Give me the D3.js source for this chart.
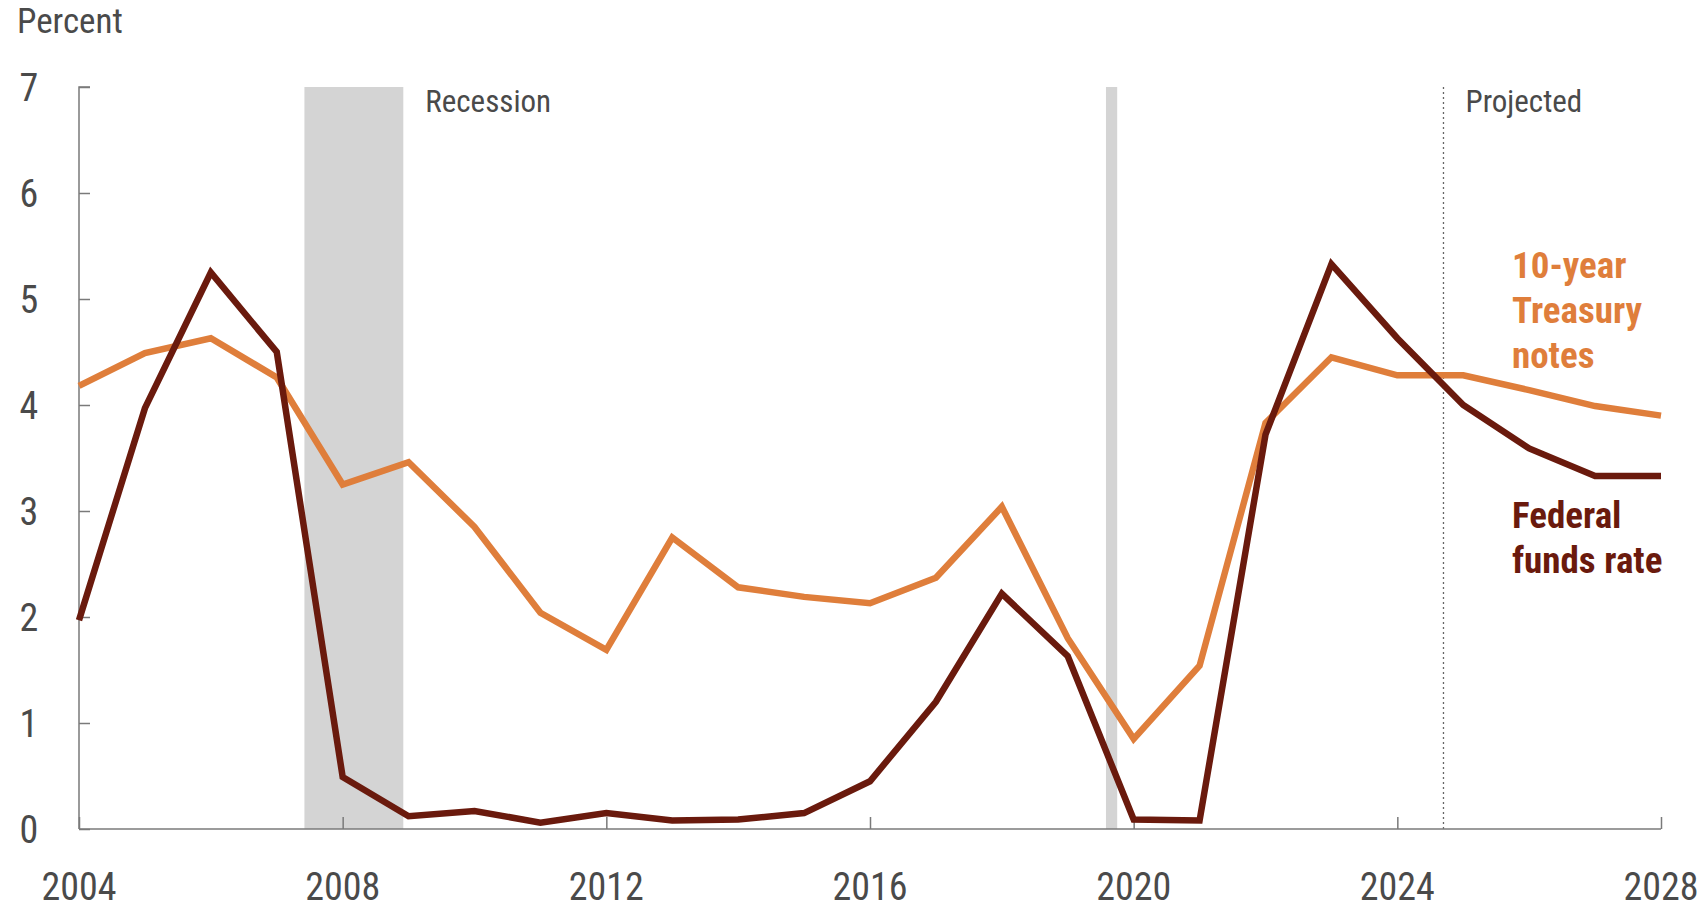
<!DOCTYPE html>
<html>
<head>
<meta charset="utf-8">
<script src="https://cdn.jsdelivr.net/npm/d3@7"></script>
<style>
  body { margin: 0; background: #fff; }
  svg { display: block; font-family: "Liberation Sans Narrow", "Roboto Condensed", "Roboto", sans-serif; }
</style>
</head>
<body>
<svg width="1706" height="909"></svg>
<script>
var years = [2004, 2005, 2006, 2007, 2008, 2009, 2010, 2011, 2012, 2013, 2014, 2015, 2016,
             2017, 2018, 2019, 2020, 2021, 2022, 2023, 2024, 2025, 2026, 2027, 2028];

var fedFunds = [1.97, 3.97, 5.25, 4.50, 0.49, 0.12, 0.17, 0.06, 0.15, 0.08, 0.09, 0.15, 0.45,
                1.20, 2.22, 1.63, 0.09, 0.08, 3.72, 5.33, 4.63, 4.00, 3.59, 3.33, 3.33];

var treasury = [4.18, 4.49, 4.63, 4.26, 3.25, 3.46, 2.85, 2.04, 1.69, 2.75, 2.28, 2.19, 2.13,
                2.37, 3.04, 1.80, 0.85, 1.54, 3.83, 4.45, 4.28, 4.28, 4.14, 3.99, 3.90];

// shaded periods, in chart-year units
var recessions = [[2007.42, 2008.92], [2019.58, 2019.75]];
var projectedStart = 2024.7;

var xTicks = [2004, 2008, 2012, 2016, 2020, 2024, 2028];
var yTicks = [0, 1, 2, 3, 4, 5, 6, 7];

var svg = d3.select("svg"),
    margin = {top: 87, right: 45, bottom: 80, left: 79},
    width = +svg.attr("width") - margin.left - margin.right,
    height = +svg.attr("height") - margin.top - margin.bottom;

var x = d3.scaleLinear().domain([2004, 2028]).range([margin.left, margin.left + width]);
var y = d3.scaleLinear().domain([0, 7]).range([margin.top + height, margin.top]);

var textColor = "#4a4a4a",
    axisColor = "#7a7a7a";

// recession bars
svg.append("g")
  .selectAll("rect")
  .data(recessions)
  .enter().append("rect")
    .attr("x", function(d) { return x(d[0]); })
    .attr("y", y(7))
    .attr("width", function(d) { return x(d[1]) - x(d[0]); })
    .attr("height", y(0) - y(7))
    .attr("fill", "#d4d4d4");

svg.append("text")
    .attr("x", x(recessions[0][1]) + 22)
    .attr("y", y(7) + 25)
    .attr("fill", textColor)
    .attr("font-size", 31)
    .text("Recession");

// projected line
svg.append("line")
    .attr("x1", x(projectedStart)).attr("x2", x(projectedStart))
    .attr("y1", y(7)).attr("y2", y(0))
    .attr("stroke", "#666")
    .attr("stroke-width", 1.3)
    .attr("stroke-dasharray", "2,3");

svg.append("text")
    .attr("x", x(projectedStart) + 22)
    .attr("y", y(7) + 25)
    .attr("fill", textColor)
    .attr("font-size", 31)
    .text("Projected");

// axes
var yAxis = d3.axisRight(y).tickValues(yTicks).tickSize(11).tickFormat("");
var gy = svg.append("g")
    .attr("transform", "translate(" + margin.left + ",0)")
    .call(yAxis);
gy.select(".domain").attr("d", "M" + 11 + "," + y(7) + "H0V" + y(0));

var xAxis = d3.axisTop(x).tickValues(xTicks).tickSize(12).tickFormat("");
var gx = svg.append("g")
    .attr("transform", "translate(0," + y(0) + ")")
    .call(xAxis);
gx.select(".domain").attr("d", "M" + x(2004) + ",0H" + x(2028));

svg.selectAll(".domain, .tick line")
    .attr("stroke", axisColor)
    .attr("stroke-width", 1.5);

// tick labels
svg.append("g")
  .selectAll("text")
  .data(yTicks)
  .enter().append("text")
    .attr("x", 29)
    .attr("y", function(d) { return y(d); })
    .attr("dy", "0.36em")
    .attr("text-anchor", "middle")
    .attr("fill", textColor)
    .attr("font-size", 38)
    .text(function(d) { return d; });

svg.append("g")
  .selectAll("text")
  .data(xTicks)
  .enter().append("text")
    .attr("x", function(d) { return x(d); })
    .attr("y", 900)
    .attr("text-anchor", "middle")
    .attr("fill", textColor)
    .attr("font-size", 38)
    .text(function(d) { return d; });

svg.append("text")
    .attr("x", 17)
    .attr("y", 33)
    .attr("fill", textColor)
    .attr("font-size", 35)
    .text("Percent");

// lines
var line = d3.line()
    .x(function(d, i) { return x(years[i]); })
    .y(function(d) { return y(d); });

svg.append("path")
    .datum(treasury)
    .attr("d", line)
    .attr("fill", "none")
    .attr("stroke", "#df7e3b")
    .attr("stroke-width", 6.5)
    .attr("stroke-linejoin", "miter");

svg.append("path")
    .datum(fedFunds)
    .attr("d", line)
    .attr("fill", "none")
    .attr("stroke", "#6a1a0d")
    .attr("stroke-width", 6.5)
    .attr("stroke-linejoin", "miter");

// series labels
var tLabel = svg.append("text")
    .attr("fill", "#df7e3b")
    .attr("font-size", 37)
    .attr("font-weight", "bold");
["10-year", "Treasury", "notes"].forEach(function(s, i) {
  tLabel.append("tspan").attr("x", 1512).attr("y", 278 + i * 45).text(s);
});

var fLabel = svg.append("text")
    .attr("fill", "#6a1a0d")
    .attr("font-size", 37)
    .attr("font-weight", "bold");
["Federal", "funds rate"].forEach(function(s, i) {
  fLabel.append("tspan").attr("x", 1512).attr("y", 528 + i * 45).text(s);
});
</script>
</body>
</html>
